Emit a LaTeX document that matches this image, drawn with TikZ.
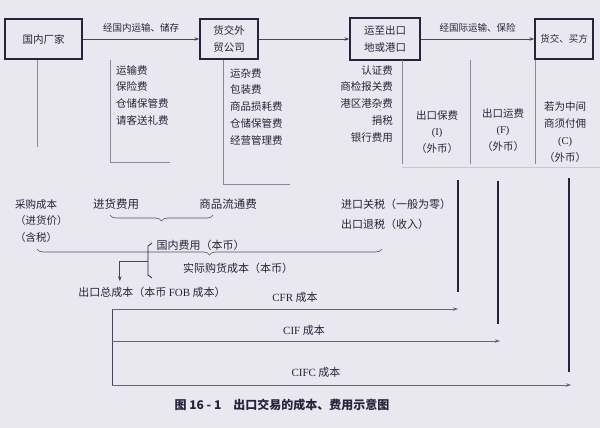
\documentclass[tikz,border=0pt]{standalone}
\usepackage{fontspec}
\setmainfont{Noto Sans CJK SC}
\newfontfamily\latin{Liberation Serif}
\usepackage{tikz}
\usetikzlibrary{positioning,calc,arrows.meta,decorations.pathreplacing}

\definecolor{paper}{RGB}{233,232,240}
\definecolor{ink}{RGB}{38,36,58}
\definecolor{rule}{RGB}{138,136,150}

\tikzset{
  stage/.style={draw=ink, line width=1.3pt, minimum height=40, align=center,
    inner sep=2pt, font=\fontsize{10.5}{17}\selectfont},
  flow/.style={-{Stealth[length=5pt,width=3.5pt]}, line width=0.7pt, draw=ink!85},
  guide/.style={draw=rule, line width=0.5pt},
  post/.style={draw=ink, line width=1.4pt},
  list/.style={inner sep=0pt, font=\fontsize{10.5}{16.8}\selectfont},
  bracebar/.style={decorate, decoration={brace, amplitude=6pt}, draw=ink!80, line width=0.6pt},
}

\begin{document}
\begin{tikzpicture}[x=1pt, y=-1pt, font=\fontsize{11}{12}\selectfont, text=ink]
  \useasboundingbox[fill=paper] (0,0) rectangle (600,428);

  % Stage boxes along the top
  \node[stage, minimum width=77] (maker) at (43.5,39) {国内厂家};
  \node[stage, minimum width=58] (trader) at (229,39) {货交外\\贸公司};
  \node[stage, minimum width=70, minimum height=42] (port) at (385,39) {运至出口\\地或港口};
  \node[stage, minimum width=58, font=\fontsize{9.5}{12}\selectfont] (buyer) at (564,39) {货交、买方};

  % Flow arrows between stages
  \draw[flow] (maker) -- (trader) node[midway, above=3pt, font=\fontsize{9.5}{11}\selectfont] (domroute) {经国内运输、储存};
  \draw[flow] (trader) -- (port);
  \draw[flow] (port) -- (buyer) node[midway, above=3pt, font=\fontsize{9.5}{11}\selectfont] (introute) {经国际运输、保险};

  % Cost lists under the stages
  \node[list, align=left, anchor=north west] (feesA) at (116,65) {运输费\\保险费\\仓储保管费\\请客送礼费};
  \node[list, align=left, anchor=north west] (feesB) at (230,68) {运杂费\\包装费\\商品损耗费\\仓储保管费\\经营管理费};
  \node[list, align=right, anchor=north east] (feesC) at (393,65) {认证费\\商检报关费\\港区港杂费\\捐税\\银行费用};
  \node[list, align=center] (insur) at (437,132) {出口保费\\{\latin(I)}\\（外币）};
  \node[list, align=center] (freight) at (503,130) {出口运费\\{\latin(F)}\\（外币）};
  \node[list, align=center] (comm) at (565,132) {若为中间\\商须付佣\\{\latin(C)}\\（外币）};

  % Guide lines
  \draw[guide] ($(maker.south)+(-6,0)$) -- ++(0,87);
  \draw[guide] (110,60) |- (170,162);
  \draw[guide] (trader.south -| 223,0) |- (290,184);
  \foreach \x in {402,470,535}
    \draw[guide] (\x,60) -- (\x,164);
  \draw[guide, draw=rule!45] (402,167) -- (600,167);

  % Domestic cost build-up
  \node[list, align=left, anchor=north west] (purchase) at (15,199) {采购成本\\（进货价）\\（含税）};
  \node[font=\fontsize{11.5}{12}\selectfont] (stockfee) at (116,204) {进货费用};
  \node[font=\fontsize{11.5}{12}\selectfont] (circfee) at (228,204) {商品流通费};
  \draw[bracebar] (213,215) -- (110,215);
  \node[anchor=west] (domestic) at (153,245) {国内费用（本币）};
  \draw[bracebar] (382,249) -- (37,249);
  \node (actual) at (238,268) {实际购货成本（本币）};
  \node[list, align=left, anchor=north west, font=\fontsize{11}{20}\selectfont] (tax) at (341,199) {进口关税（一般为零）\\出口退税（收入）};
  \node (fobcost) at (152,292) {出口总成本（本币 {\latin FOB} 成本）};
  \draw[draw=ink, line width=0.8pt] (152,243) -- (148,246) -- (148,275) -- (152,278);
  \draw[flow] (148,261) -| ($(fobcost.north west)+(45,-2)$);

  % Posts for the foreign costs
  \draw[post] (458,180) -- (458,292);
  \draw[post] (498,181) -- (498,324);
  \draw[post] (569,178) -- (569,372);

  % Price arrows
  \draw[guide, draw=ink!85, line width=0.7pt] (112,309) -- (112,385);
  \foreach \y/\xe/\lx/\ly/\txt in {309/458/295/297/CFR, 341/500/304/330/CIF, 385/571/316/372/CIFC} {
    \draw[flow, draw=ink!70] (112,\y) -- (\xe,\y);
    \node (price\txt) at (\lx,\ly) {{\latin\txt} 成本};
  }

  \node[font=\bfseries\fontsize{12}{13}\selectfont] (caption) at (282,405) {图 16 - 1\quad 出口交易的成本、费用示意图};
\end{tikzpicture}
\end{document}
